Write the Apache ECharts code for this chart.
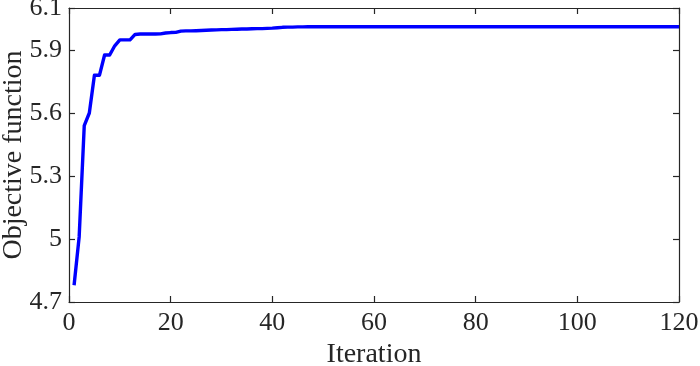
<!DOCTYPE html>
<html>
<head>
<meta charset="utf-8">
<script src="https://cdn.jsdelivr.net/npm/echarts@6/dist/echarts.min.js"></script>
<style>
html,body{margin:0;padding:0;background:#fff;}
#chart{width:700px;height:366px;}
</style>
</head>
<body>
<div id="chart"></div>
<script>
// Data
var iterations = [];
for (var k = 1; k <= 120; k++) iterations.push(k);
var objective = [
  4.78, 5.01, 5.54, 5.60, 5.78, 5.78, 5.876, 5.876, 5.92, 5.948,
  5.948, 5.948, 5.974, 5.976, 5.976, 5.976, 5.976, 5.977, 5.981, 5.983,
  5.984, 5.99, 5.991, 5.991, 5.992, 5.993, 5.994, 5.995, 5.996, 5.997,
  5.997, 5.998, 5.999, 6.0, 6.0, 6.001, 6.002, 6.002, 6.003, 6.004,
  6.006, 6.008, 6.009, 6.009, 6.01, 6.01, 6.011, 6.011, 6.011, 6.011,
  6.011, 6.011, 6.011, 6.011, 6.011, 6.011, 6.011, 6.011, 6.011, 6.011,
  6.011, 6.011, 6.011, 6.011, 6.011, 6.011, 6.011, 6.011, 6.011, 6.011,
  6.011, 6.011, 6.011, 6.011, 6.011, 6.011, 6.011, 6.011, 6.011, 6.011,
  6.011, 6.011, 6.011, 6.011, 6.011, 6.011, 6.011, 6.011, 6.011, 6.011,
  6.011, 6.011, 6.011, 6.011, 6.011, 6.011, 6.011, 6.011, 6.011, 6.011,
  6.011, 6.011, 6.011, 6.011, 6.011, 6.011, 6.011, 6.011, 6.011, 6.011,
  6.011, 6.011, 6.011, 6.011, 6.011, 6.011, 6.011, 6.011, 6.011, 6.011
];
var xTitle = 'Iteration';
var yTitle = 'Objective function';
var xMin = 0, xMax = 120, xStep = 20;
var yMin = 4.7, yMax = 6.1, yStep = 0.3;

var seriesData = iterations.map(function (x, i) { return [x, objective[i]]; });

var font = 'Liberation Serif, Times New Roman, serif';
var axisColor = '#262626';

var chart = echarts.init(document.getElementById('chart'), null, {renderer: 'canvas'});
chart.setOption({
  animation: false,
  backgroundColor: '#fff',
  grid: {left: 69, right: 21, top: 8, bottom: 64, containLabel: false, outerBoundsMode: 'none'},
  xAxis: [{
    type: 'value', position: 'bottom', min: xMin, max: xMax, interval: xStep,
    name: xTitle, nameLocation: 'middle', nameGap: 39, nameMoveOverlap: false,
    nameTextStyle: {fontFamily: font, fontSize: 28, color: axisColor},
    axisLine: {show: true, onZero: false, lineStyle: {color: axisColor, width: 1.2}},
    axisTick: {show: true, inside: true, length: 6, lineStyle: {color: axisColor, width: 1.2}},
    axisLabel: {fontFamily: font, fontSize: 26, color: axisColor, margin: 8},
    splitLine: {show: false}
  }, {
    type: 'value', position: 'top', min: xMin, max: xMax, interval: xStep,
    axisLine: {show: true, onZero: false, lineStyle: {color: axisColor, width: 1.2}},
    axisTick: {show: true, inside: true, length: 6, lineStyle: {color: axisColor, width: 1.2}},
    axisLabel: {show: false},
    splitLine: {show: false}
  }],
  yAxis: [{
    type: 'value', position: 'left', min: yMin, max: yMax, interval: yStep,
    name: yTitle, nameLocation: 'middle', nameGap: 41, nameRotate: 90, nameMoveOverlap: false,
    nameTextStyle: {fontFamily: font, fontSize: 28, color: axisColor},
    axisLine: {show: true, onZero: false, lineStyle: {color: axisColor, width: 1.2}},
    axisTick: {show: true, inside: true, length: 6, lineStyle: {color: axisColor, width: 1.2}},
    axisLabel: {fontFamily: font, fontSize: 26, color: axisColor, margin: 7,
      showMaxLabel: true, showMinLabel: true},
    splitLine: {show: false}
  }, {
    type: 'value', position: 'right', min: yMin, max: yMax, interval: yStep,
    axisLine: {show: true, onZero: false, lineStyle: {color: axisColor, width: 1.2}},
    axisTick: {show: true, inside: true, length: 6, lineStyle: {color: axisColor, width: 1.2}},
    axisLabel: {show: false},
    splitLine: {show: false}
  }],
  series: [{
    type: 'line', xAxisIndex: 0, yAxisIndex: 0,
    data: seriesData, showSymbol: false, symbol: 'none',
    lineStyle: {color: '#0000ff', width: 3.4, join: 'round'},
    itemStyle: {color: '#0000ff'}
  }]
});
</script>
</body>
</html>
